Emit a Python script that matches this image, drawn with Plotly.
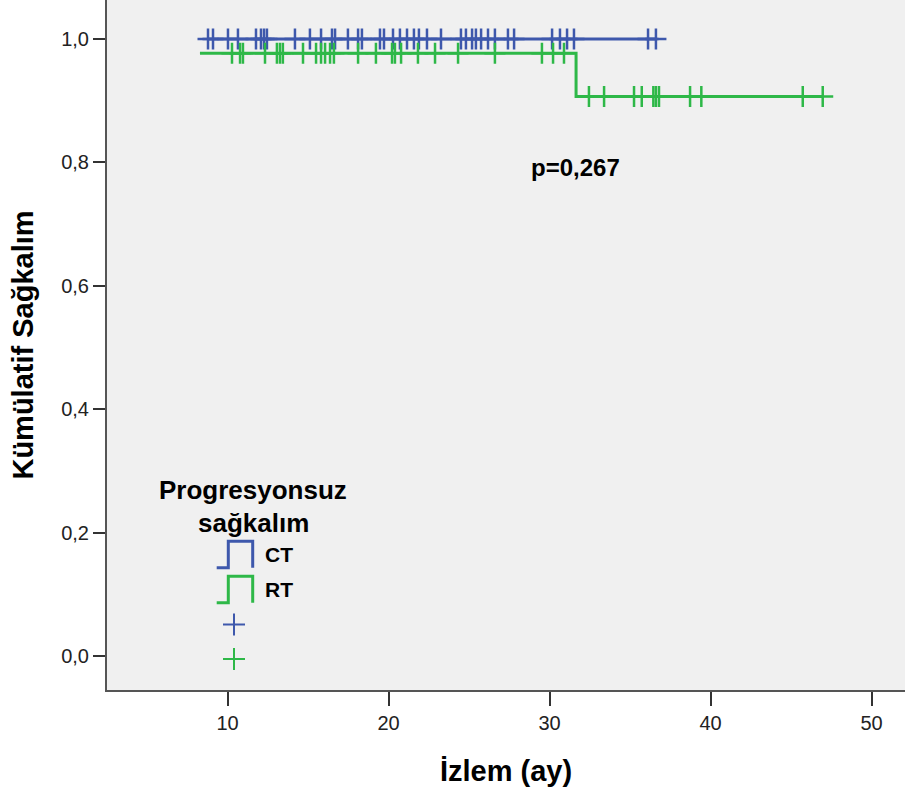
import plotly.graph_objects as go

# ---------------- data ----------------
ct_censor_times = [8.79, 9.10, 10.03, 10.65, 11.77, 12.08, 12.27, 12.45, 14.19, 15.12,
                   15.81, 16.49, 16.68, 17.48, 18.11, 18.35, 19.47, 19.72, 20.28, 20.71,
                   21.15, 21.58, 21.89, 22.39, 23.26, 24.50, 24.81, 25.19, 25.43, 25.75,
                   26.18, 26.61, 27.42, 27.80, 30.16, 30.65, 31.09, 31.52, 36.12, 36.61]
ct_curve_time = [8.79, 36.61]
ct_curve_surv = [1.0, 1.0]

rt_censor_times = [10.28, 10.78, 10.96, 12.33, 13.07, 13.26, 13.44, 14.69, 15.50, 15.81,
                   16.06, 16.37, 16.61, 18.11, 19.22, 20.22, 20.40, 20.78, 21.83, 22.89,
                   24.32, 26.61, 29.53, 30.22, 30.90,
                   32.45, 33.39, 35.25, 35.73, 36.45, 36.61, 36.80, 38.73, 39.43, 45.73, 46.97]
rt_curve_time = [8.29, 31.65, 46.97]
rt_curve_surv = [0.977, 0.907, 0.907]

y_tick_vals = [0.0, 0.2, 0.4, 0.6, 0.8, 1.0]
y_tick_text = ["0,0", "0,2", "0,4", "0,6", "0,8", "1,0"]
x_tick_vals = [10, 20, 30, 40, 50]

group_labels = ["CT", "RT"]
legend_title = ["Progresyonsuz", "sağkalım"]
p_text = "p=0,267"

BLUE = "#3e58ac"
GREEN = "#2eb848"
FONT = "Liberation Sans, Arial, sans-serif"


def step_value(t, times, survs):
    v = survs[0]
    for tt, s in zip(times, survs):
        if t >= tt:
            v = s
    return v


W, H = 905, 794
L, R, T, B = 107, 0, 0, 104
PW, PH = W - L - R, H - T - B


def px(x):
    return (x - L) / PW


def py(y):
    return (H - B - y) / PH


fig = go.Figure()

fig.add_trace(go.Scatter(x=ct_curve_time, y=ct_curve_surv, mode="lines",
                         line=dict(color=BLUE, width=3, shape="hv"), showlegend=False,
                         hoverinfo="skip"))
fig.add_trace(go.Scatter(x=rt_curve_time, y=rt_curve_surv, mode="lines",
                         line=dict(color=GREEN, width=3, shape="hv"), showlegend=False,
                         hoverinfo="skip"))
fig.add_trace(go.Scatter(x=ct_censor_times,
                         y=[step_value(t, ct_curve_time, ct_curve_surv) for t in ct_censor_times],
                         mode="markers",
                         marker=dict(symbol="cross-thin", size=15, line=dict(color=BLUE, width=2.5)),
                         showlegend=False))
fig.add_trace(go.Scatter(x=rt_censor_times,
                         y=[step_value(t, rt_curve_time, rt_curve_surv) for t in rt_censor_times],
                         mode="markers",
                         marker=dict(symbol="cross-thin", size=15, line=dict(color=GREEN, width=2.5)),
                         showlegend=False))

shapes = []
annotations = []

# legend title
annotations.append(dict(text=legend_title[0], x=px(253), y=py(490), xref="paper", yref="paper",
                        showarrow=False, xanchor="center", yanchor="middle",
                        font=dict(family=FONT, size=26, color="black", weight="bold")))
annotations.append(dict(text=legend_title[1], x=px(253), y=py(523), xref="paper", yref="paper",
                        showarrow=False, xanchor="center", yanchor="middle",
                        font=dict(family=FONT, size=26, color="black", weight="bold")))

for i, (lab, col) in enumerate(zip(group_labels, [BLUE, GREEN])):
    yb = 567.7 + 35 * i
    yt = 541.3 + 35 * i
    path = (f"M {px(216.7)} {py(yb)} L {px(228.3)} {py(yb)} L {px(228.3)} {py(yt)} "
            f"L {px(252.7)} {py(yt)} L {px(252.7)} {py(yb)}")
    shapes.append(dict(type="path", path=path, xref="paper", yref="paper",
                       line=dict(color=col, width=3)))
    annotations.append(dict(text=lab, x=px(263), y=py((yb + yt) / 2), xref="paper", yref="paper",
                            showarrow=False, xanchor="left", yanchor="middle",
                            font=dict(family=FONT, size=21, color="black", weight="bold")))
    cy = 624.5 + 34.5 * i
    shapes.append(dict(type="line", x0=px(223), x1=px(245), y0=py(cy), y1=py(cy),
                       xref="paper", yref="paper", line=dict(color=col, width=2)))
    shapes.append(dict(type="line", x0=px(234), x1=px(234), y0=py(cy - 11), y1=py(cy + 11),
                       xref="paper", yref="paper", line=dict(color=col, width=2)))

annotations.append(dict(text=p_text, x=31.6, y=0.791, xref="x", yref="y", showarrow=False,
                        xanchor="center", yanchor="middle",
                        font=dict(family=FONT, size=24, color="black", weight="bold")))

fig.update_layout(
    width=W, height=H,
    margin=dict(l=L, r=R, t=T, b=B, pad=0),
    paper_bgcolor="white",
    plot_bgcolor="#f0f0f0",
    shapes=shapes,
    annotations=annotations,
    showlegend=False,
    xaxis=dict(range=[2.516, 52.08], tickvals=x_tick_vals, ticks="outside", ticklen=14,
               tickwidth=2, tickcolor="#333", showline=True, linecolor="#555", linewidth=2,
               showgrid=False, zeroline=False,
               tickfont=dict(family=FONT, size=20, color="#222"),
               title=dict(text="İzlem (ay)", standoff=28,
                          font=dict(family=FONT, size=29, color="black", weight="bold"))),
    yaxis=dict(range=[-0.0551, 1.0632], tickvals=y_tick_vals, ticktext=y_tick_text,
               ticks="outside", ticklen=12, tickwidth=2, tickcolor="#333",
               showline=True, linecolor="#555", linewidth=2,
               showgrid=False, zeroline=False,
               tickfont=dict(family=FONT, size=20, color="#222"),
               title=dict(text="Kümülatif Sağkalım", standoff=19,
                          font=dict(family=FONT, size=29, color="black", weight="bold"))),
)

fig.write_html("out.html", config={"displayModeBar": False},
               post_script="document.body.style.margin='0';")
